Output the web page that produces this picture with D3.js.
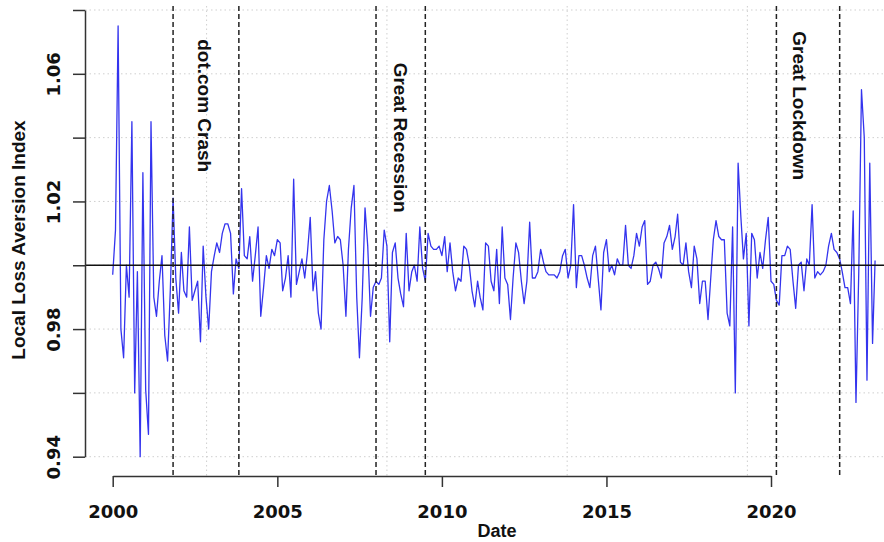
<!DOCTYPE html>
<html>
<head>
<meta charset="utf-8">
<script src="https://cdn.jsdelivr.net/npm/d3@7"></script>
<style>
  html, body { margin: 0; padding: 0; background: #fff; }
  svg { display: block; }
</style>
</head>
<body>
<svg id="chart" width="884" height="542"></svg>
<script>
// ---------------- DATA ----------------
const startYear = 2000;           // first observation: January 2000, monthly
const lossAversion = [
  // 2000
  0.997, 1.011, 1.075, 0.980, 0.971, 1.000, 0.990, 1.045, 0.960, 0.998, 0.940, 1.029,
  // 2001
  0.961, 0.947, 1.045, 0.990, 0.984, 0.995, 1.003, 0.978, 0.970, 0.992, 1.021, 0.996,
  // 2002
  0.985, 1.004, 0.992, 0.990, 1.012, 0.989, 0.992, 0.995, 0.976, 1.006, 0.990, 0.980,
  // 2003
  0.998, 1.003, 1.007, 1.004, 1.010, 1.013, 1.013, 1.010, 0.991, 1.002, 0.999, 1.024,
  // 2004
  1.003, 1.002, 1.009, 0.995, 1.003, 1.012, 0.984, 0.993, 1.003, 0.999, 1.005, 1.003,
  // 2005
  1.008, 1.007, 0.992, 0.996, 1.003, 0.990, 1.027, 0.994, 0.998, 1.002, 0.996, 1.004,
  // 2006
  1.015, 0.992, 0.998, 0.985, 0.980, 1.008, 1.020, 1.025, 1.017, 1.007, 1.009, 1.008,
  // 2007
  1.000, 0.984, 1.005, 1.018, 1.025, 0.990, 0.971, 0.990, 1.018, 1.006, 0.984, 0.993,
  // 2008
  0.995, 0.994, 0.996, 1.011, 1.006, 0.976, 1.004, 1.007, 0.996, 0.991, 0.987, 1.010,
  // 2009
  0.992, 0.998, 1.000, 0.995, 1.012, 0.999, 0.995, 1.010, 1.006, 1.005, 1.005, 1.006,
  // 2010
  1.003, 1.009, 0.998, 1.007, 0.998, 0.992, 0.996, 0.995, 1.006, 1.005, 1.000, 0.992,
  // 2011
  0.987, 0.995, 0.990, 0.986, 1.007, 1.006, 0.995, 0.992, 1.005, 0.988, 1.012, 0.996,
  // 2012
  0.994, 0.983, 0.996, 1.007, 1.004, 0.995, 0.988, 0.995, 1.0135, 0.996, 0.996, 0.998,
  // 2013
  1.005, 1.001, 0.998, 0.997, 0.997, 0.997, 0.996, 0.998, 1.003, 1.005, 0.996, 1.000,
  // 2014
  1.019, 0.993, 1.003, 1.003, 1.000, 0.996, 0.993, 1.003, 1.006, 0.996, 0.986, 1.004,
  // 2015
  1.008, 0.998, 1.000, 0.997, 1.002, 1.000, 1.000, 1.0125, 1.000, 0.999, 1.003, 1.010,
  // 2016
  1.006, 1.012, 1.014, 0.994, 0.995, 1.000, 1.001, 0.999, 0.996, 1.007, 1.009, 1.0125,
  // 2017
  1.005, 1.009, 1.016, 1.001, 1.000, 1.007, 0.998, 0.993, 1.006, 1.002, 0.988, 0.995,
  // 2018
  0.995, 0.983, 0.995, 1.008, 1.014, 1.009, 1.008, 1.008, 0.985, 0.981, 1.012, 0.960,
  // 2019
  1.032, 1.015, 1.002, 1.010, 0.981, 1.010, 1.008, 0.996, 1.004, 0.999, 1.008, 1.015,
  // 2020
  0.995, 0.994, 0.989, 0.9875, 1.003, 1.003, 1.006, 1.005, 0.995, 0.9865, 1.000, 1.001,
  // 2021
  0.992, 1.002, 1.000, 1.019, 0.996, 0.998, 0.997, 0.998, 1.000, 1.006, 1.010, 1.005,
  // 2022
  1.004, 1.002, 0.998, 0.993, 0.993, 0.988, 1.017, 0.957, 0.998, 1.055, 1.040, 0.964,
  // 2023
  1.032, 0.9755, 1.0015
];

const xTickYears   = [2000, 2005, 2010, 2015, 2020];
const yTickValues  = [0.94, 0.96, 0.98, 1.00, 1.02, 1.04, 1.06, 1.08];
const yTickLabels  = ["0.94", "0.98", "1.02", "1.06"];
const xGridDates   = ["2002-11-08", "2008-05-01", "2013-10-22", "2019-04-14"];
const eventDates   = ["2001-11-01", "2003-11-01", "2008-01-01", "2009-07-01", "2020-03-01", "2022-02-01"];
const eventLabels  = ["dot.com Crash", "Great Recession", "Great Lockdown"];
const eventLabelDates  = ["2002-10-15", "2008-09-27", "2020-11-17"];
const eventLabelValues = [1.05, 1.04, 1.05];
const referenceLevel = 1.00;
const xTitle = "Date";
const yTitle = "Local Loss Aversion Index";

// ---------------- CHART ----------------
const svg = d3.select("#chart");
const W = 884, H = 542;
const plot = { left: 85, right: 884, top: 6, bottom: 476 };

const parse = d3.timeParse("%Y-%m-%d");
const x = d3.scaleTime()
  .domain([new Date(2000, 0, 1), new Date(2020, 0, 1)])
  .range([112.7, 771]);
const y = d3.scaleLinear()
  .domain([0.94, 1.08])
  .range([456.7, 10]);

const series = lossAversion.map((v, i) => ({ date: new Date(startYear, i, 1), value: v }));

svg.append("rect").attr("width", W).attr("height", H).attr("fill", "#fff");

svg.append("defs").append("clipPath").attr("id", "clip")
  .append("rect")
  .attr("x", plot.left).attr("y", plot.top)
  .attr("width", plot.right - plot.left).attr("height", plot.bottom - plot.top);

const g = svg.append("g").attr("clip-path", "url(#clip)");

// grid
g.selectAll(".hgrid").data(yTickValues).join("line")
  .attr("x1", plot.left).attr("x2", plot.right)
  .attr("y1", d => y(d)).attr("y2", d => y(d))
  .attr("stroke", "#cfcfcf").attr("stroke-width", 1)
  .attr("stroke-dasharray", "1.5,3");
g.selectAll(".vgrid").data(xGridDates).join("line")
  .attr("x1", d => x(parse(d))).attr("x2", d => x(parse(d)))
  .attr("y1", plot.top).attr("y2", plot.bottom)
  .attr("stroke", "#cfcfcf").attr("stroke-width", 1)
  .attr("stroke-dasharray", "1.5,3");

// data line
g.append("path").datum(series)
  .attr("fill", "none")
  .attr("stroke", "#3434ee")
  .attr("stroke-width", 1.3)
  .attr("stroke-linejoin", "round")
  .attr("d", d3.line().x(d => x(d.date)).y(d => y(d.value)));

// reference line
g.append("line")
  .attr("x1", plot.left).attr("x2", plot.right)
  .attr("y1", y(referenceLevel)).attr("y2", y(referenceLevel))
  .attr("stroke", "#111").attr("stroke-width", 1.6);

// event lines
g.selectAll(".event").data(eventDates).join("line")
  .attr("x1", d => x(parse(d))).attr("x2", d => x(parse(d)))
  .attr("y1", plot.top).attr("y2", plot.bottom)
  .attr("stroke", "#222").attr("stroke-width", 1.5)
  .attr("stroke-dasharray", "5,3");

// event labels
svg.selectAll(".elabel").data(eventLabels).join("text")
  .attr("transform", (d, i) => `translate(${x(parse(eventLabelDates[i]))},${y(eventLabelValues[i])}) rotate(90)`)
  .attr("text-anchor", "middle")
  .attr("dominant-baseline", "central")
  .attr("font-family", "'Liberation Sans', Arial, sans-serif")
  .attr("font-weight", "bold")
  .attr("font-size", 19)
  .attr("fill", "#111")
  .text(d => d);

// axes
const yAxis = d3.axisLeft(y)
  .tickValues(yTickValues)
  .tickSize(12).tickSizeOuter(0)
  .tickFormat(d => { const s = d3.format(".2f")(d); return yTickLabels.includes(s) ? s : ""; });
const ya = svg.append("g").attr("transform", `translate(${plot.left},0)`).call(yAxis);
ya.select(".domain").attr("stroke", "#333").attr("stroke-width", 1.5);
ya.selectAll(".tick line").attr("stroke", "#333").attr("stroke-width", 1.5);
ya.selectAll(".tick text")
  .attr("x", null).attr("dy", null)
  .attr("transform", "translate(-25,0) rotate(-90)")
  .attr("text-anchor", "middle")
  .attr("font-family", "'DejaVu Sans', sans-serif")
  .attr("font-weight", "bold")
  .attr("font-size", 18)
  .attr("fill", "#111");

const xAxis = d3.axisBottom(x)
  .tickValues(xTickYears.map(yr => new Date(yr, 0, 1)))
  .tickSize(11).tickSizeOuter(0)
  .tickFormat(d3.timeFormat("%Y"));
const xa = svg.append("g").attr("transform", `translate(0,${plot.bottom})`).call(xAxis);
xa.select(".domain").attr("stroke", "#333").attr("stroke-width", 1.5);
xa.selectAll(".tick line").attr("stroke", "#333").attr("stroke-width", 1.5);
xa.selectAll(".tick text")
  .attr("y", 42).attr("dy", null)
  .attr("font-family", "'DejaVu Sans', sans-serif")
  .attr("font-weight", "bold")
  .attr("font-size", 18)
  .attr("fill", "#111");

// titles
svg.append("text")
  .attr("x", 497).attr("y", 537)
  .attr("text-anchor", "middle")
  .attr("font-family", "'Liberation Sans', Arial, sans-serif")
  .attr("font-weight", "bold").attr("font-size", 18)
  .attr("fill", "#111")
  .text(xTitle);
svg.append("text")
  .attr("transform", "translate(25,240) rotate(-90)")
  .attr("text-anchor", "middle")
  .attr("font-family", "'Liberation Sans', Arial, sans-serif")
  .attr("font-weight", "bold").attr("font-size", 19)
  .attr("fill", "#111")
  .text(yTitle);
</script>
</body>
</html>
